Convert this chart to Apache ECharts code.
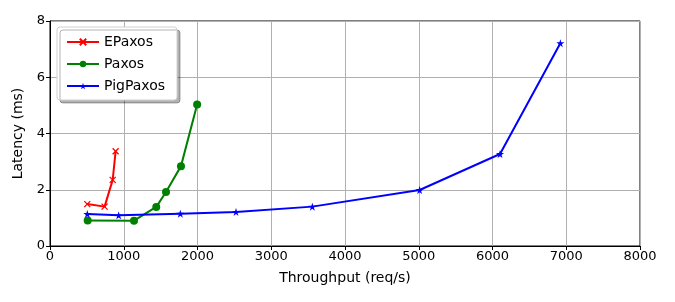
<!DOCTYPE html>
<html>
<head>
<meta charset="utf-8">
<script src="https://cdn.jsdelivr.net/npm/echarts@6/dist/echarts.min.js"></script>
<style>
  html, body { margin: 0; padding: 0; background: #fff; }
  #chart { width: 675px; height: 302px; }
</style>
</head>
<body>
<div id="chart"></div>
<script>
// values
const epaxosX = [505, 740, 850, 890];
const epaxosY = [1.49, 1.40, 2.35, 3.37];

const paxosX = [511, 1139, 1441, 1573, 1776, 1995];
const paxosY = [0.91, 0.90, 1.39, 1.92, 2.84, 5.03];

const pigX = [506, 931, 1767, 2522, 3557, 5012, 6102, 6920];
const pigY = [1.14, 1.09, 1.15, 1.21, 1.40, 1.99, 3.27, 7.21];

const xTicks = [0, 1000, 2000, 3000, 4000, 5000, 6000, 7000, 8000];
const yTicks = [0, 2, 4, 6, 8];

const crossPath = 'path://M0,0L10,10M10,0L0,10';
const starPath = 'path://M5,0L6.2,3.6L10,3.6L6.9,5.9L8.1,9.5L5,7.3L1.9,9.5L3.1,5.9L0,3.6L3.8,3.6Z';

const zip = (xs, ys) => xs.map((x, i) => [x, ys[i]]);

const font = 'DejaVu Sans';

function mkSeries(name, xs, ys, color, symbol, size, extra) {
	return Object.assign({
		name: name,
		type: 'line',
		data: zip(xs, ys),
		symbol: symbol,
		symbolSize: size,
		showAllSymbol: true,
		lineStyle: { color: color, width: 2 },
		itemStyle: { color: color, borderColor: color, borderWidth: 0 },
		emphasis: { disabled: true },
		animation: false,
		z: 3
	}, extra || {});
}

const chart = echarts.init(document.getElementById('chart'), null, { renderer: 'canvas' });

chart.setOption({
	backgroundColor: '#fff',
	animation: false,
	textStyle: { fontFamily: font },
	grid: { left: 50, right: 35, top: 21, bottom: 56, show: true, borderColor: '#000', borderWidth: 1 },
	legend: {
		left: 57,
		top: 27,
		orient: 'vertical',
		itemWidth: 32,
		itemHeight: 8,
		itemGap: 8,
		padding: [8, 12, 7, 9],
		backgroundColor: '#fff',
		borderColor: '#d0d0d0',
		borderWidth: 1,
		borderRadius: 3,
		shadowColor: 'rgba(0,0,0,0.3)',
		shadowOffsetX: 3,
		shadowOffsetY: 3,
		shadowBlur: 0,
		textStyle: { fontFamily: font, fontSize: 14, color: '#000' },
		data: ['EPaxos', 'Paxos', 'PigPaxos']
	},
	xAxis: {
		type: 'value',
		min: 0,
		max: 8000,
		interval: 1000,
		name: 'Throughput (req/s)',
		nameLocation: 'middle',
		nameGap: 25,
		nameTextStyle: { fontFamily: font, fontSize: 14, color: '#000' },
		axisLine: { show: true, onZero: false, lineStyle: { color: '#000', width: 1 } },
		axisTick: { show: true, length: 4, lineStyle: { color: '#000' } },
		axisLabel: { fontFamily: font, fontSize: 13, color: '#000', margin: 4, formatter: v => String(v) },
		splitLine: { show: true, lineStyle: { color: '#b0b0b0', width: 1 } }
	},
	yAxis: {
		type: 'value',
		min: 0,
		max: 8,
		interval: 2,
		name: 'Latency (ms)',
		nameLocation: 'middle',
		nameGap: 22,
		nameTextStyle: { fontFamily: font, fontSize: 14, color: '#000' },
		axisLine: { show: true, onZero: false, lineStyle: { color: '#000', width: 1 } },
		axisTick: { show: true, length: 4, lineStyle: { color: '#000' } },
		axisLabel: { fontFamily: font, fontSize: 13, color: '#000', margin: 5 },
		splitLine: { show: true, lineStyle: { color: '#b0b0b0', width: 1 } }
	},
	series: [
		mkSeries('EPaxos', epaxosX, epaxosY, '#ff0000', crossPath, 6, {
			itemStyle: { color: 'none', borderColor: '#ff0000', borderWidth: 1.3 }
		}),
		mkSeries('Paxos', paxosX, paxosY, '#008000', 'circle', 8),
		mkSeries('PigPaxos', pigX, pigY, '#0000ff', starPath, 8)
	]
});
</script>
</body>
</html>
